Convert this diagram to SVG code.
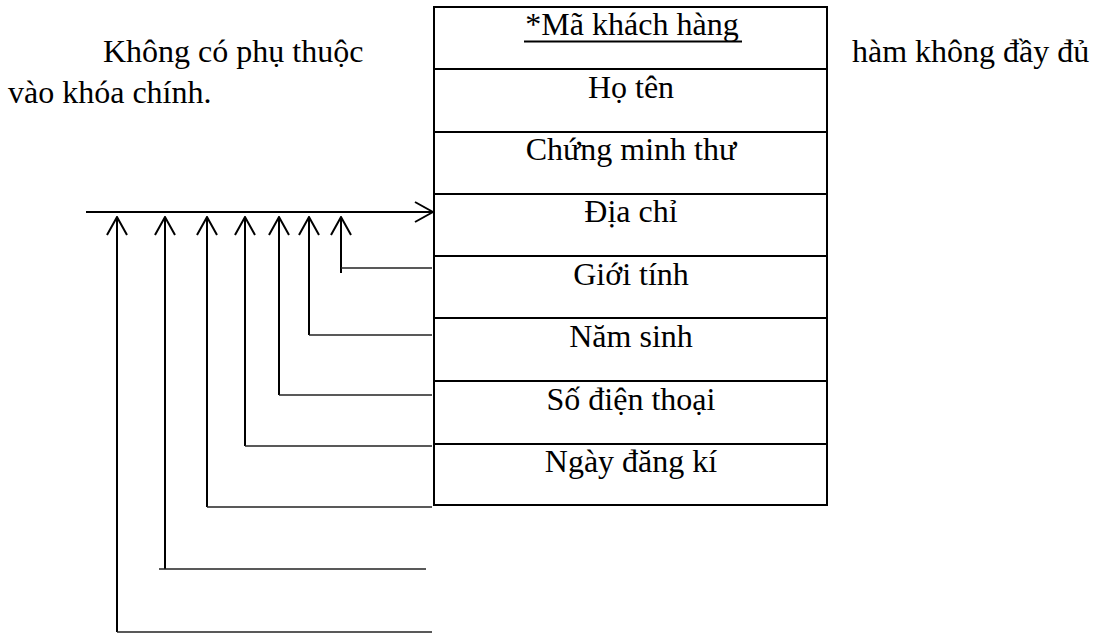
<svg xmlns="http://www.w3.org/2000/svg" width="1093" height="634" viewBox="0 0 1093 634">
  <style>
    text { font-family: "Liberation Serif", "Times New Roman", serif; font-size: 32px; fill: #000; }
    .cell { text-anchor: middle; }
    .box { fill: none; stroke: #000; stroke-width: 2; }
    .div { stroke: #000; stroke-width: 2; }
    .arrow { fill: none; stroke: #000; stroke-width: 2; marker-end: url(#chev); }
    .tail { fill: none; stroke: #222; stroke-width: 1.3; }
  </style>
  <defs>
    <marker id="chev" viewBox="0 0 20 22" refX="19" refY="11" markerWidth="20" markerHeight="22" markerUnits="userSpaceOnUse" orient="auto">
      <path d="M1,1 L19,11 L1,21" fill="none" stroke="#000" stroke-width="2"/>
    </marker>
  </defs>
  <rect width="1093" height="634" fill="#fff"/>

  <g id="caption">
    <text x="103" y="62">Không có phụ thuộc</text>
    <text x="852" y="62">hàm không đầy đủ</text>
    <text x="8" y="103">vào khóa chính.</text>
  </g>

  <g id="table">
    <rect class="box" x="434" y="7" width="393" height="498"/>
    <line class="div" x1="434" y1="69" x2="827" y2="69"/>
    <line class="div" x1="434" y1="132" x2="827" y2="132"/>
    <line class="div" x1="434" y1="194" x2="827" y2="194"/>
    <line class="div" x1="434" y1="256" x2="827" y2="256"/>
    <line class="div" x1="434" y1="318" x2="827" y2="318"/>
    <line class="div" x1="434" y1="381" x2="827" y2="381"/>
    <line class="div" x1="434" y1="444" x2="827" y2="444"/>
    <g id="f1"><text class="cell" x="632" y="35">*Mã khách hàng</text><line x1="524" y1="41.5" x2="742" y2="41.5" stroke="#000" stroke-width="2"/></g>
    <g id="f2"><text class="cell" x="631" y="98">Họ tên</text></g>
    <g id="f3"><text class="cell" x="631" y="160">Chứng minh thư</text></g>
    <g id="f4"><text class="cell" x="631" y="222">Địa chỉ</text></g>
    <g id="f5"><text class="cell" x="631" y="285">Giới tính</text></g>
    <g id="f6"><text class="cell" x="631" y="347">Năm sinh</text></g>
    <g id="f7"><text class="cell" x="631" y="410">Số điện thoại</text></g>
    <g id="f8"><text class="cell" x="631" y="472">Ngày đăng kí</text></g>
  </g>

  <g id="connectors">
    <path class="arrow" d="M86,212 H433"/>
    <path class="arrow" d="M341,273 V217"/>
    <path class="arrow" d="M309,335 V217"/>
    <path class="arrow" d="M279,395 V217"/>
    <path class="arrow" d="M245,446 V217"/>
    <path class="arrow" d="M207,507 V217"/>
    <path class="arrow" d="M165,569 V217"/>
    <path class="arrow" d="M117,632 V217"/>
    <line class="tail" x1="341" y1="268" x2="432" y2="268"/>
    <line class="tail" x1="309" y1="335" x2="432" y2="335"/>
    <line class="tail" x1="279" y1="395" x2="432" y2="395"/>
    <line class="tail" x1="245" y1="446" x2="432" y2="446"/>
    <line class="tail" x1="207" y1="507" x2="432" y2="507"/>
    <line class="tail" x1="159" y1="569" x2="426" y2="569"/>
    <line class="tail" x1="117" y1="632" x2="432" y2="632"/>
  </g>
</svg>
